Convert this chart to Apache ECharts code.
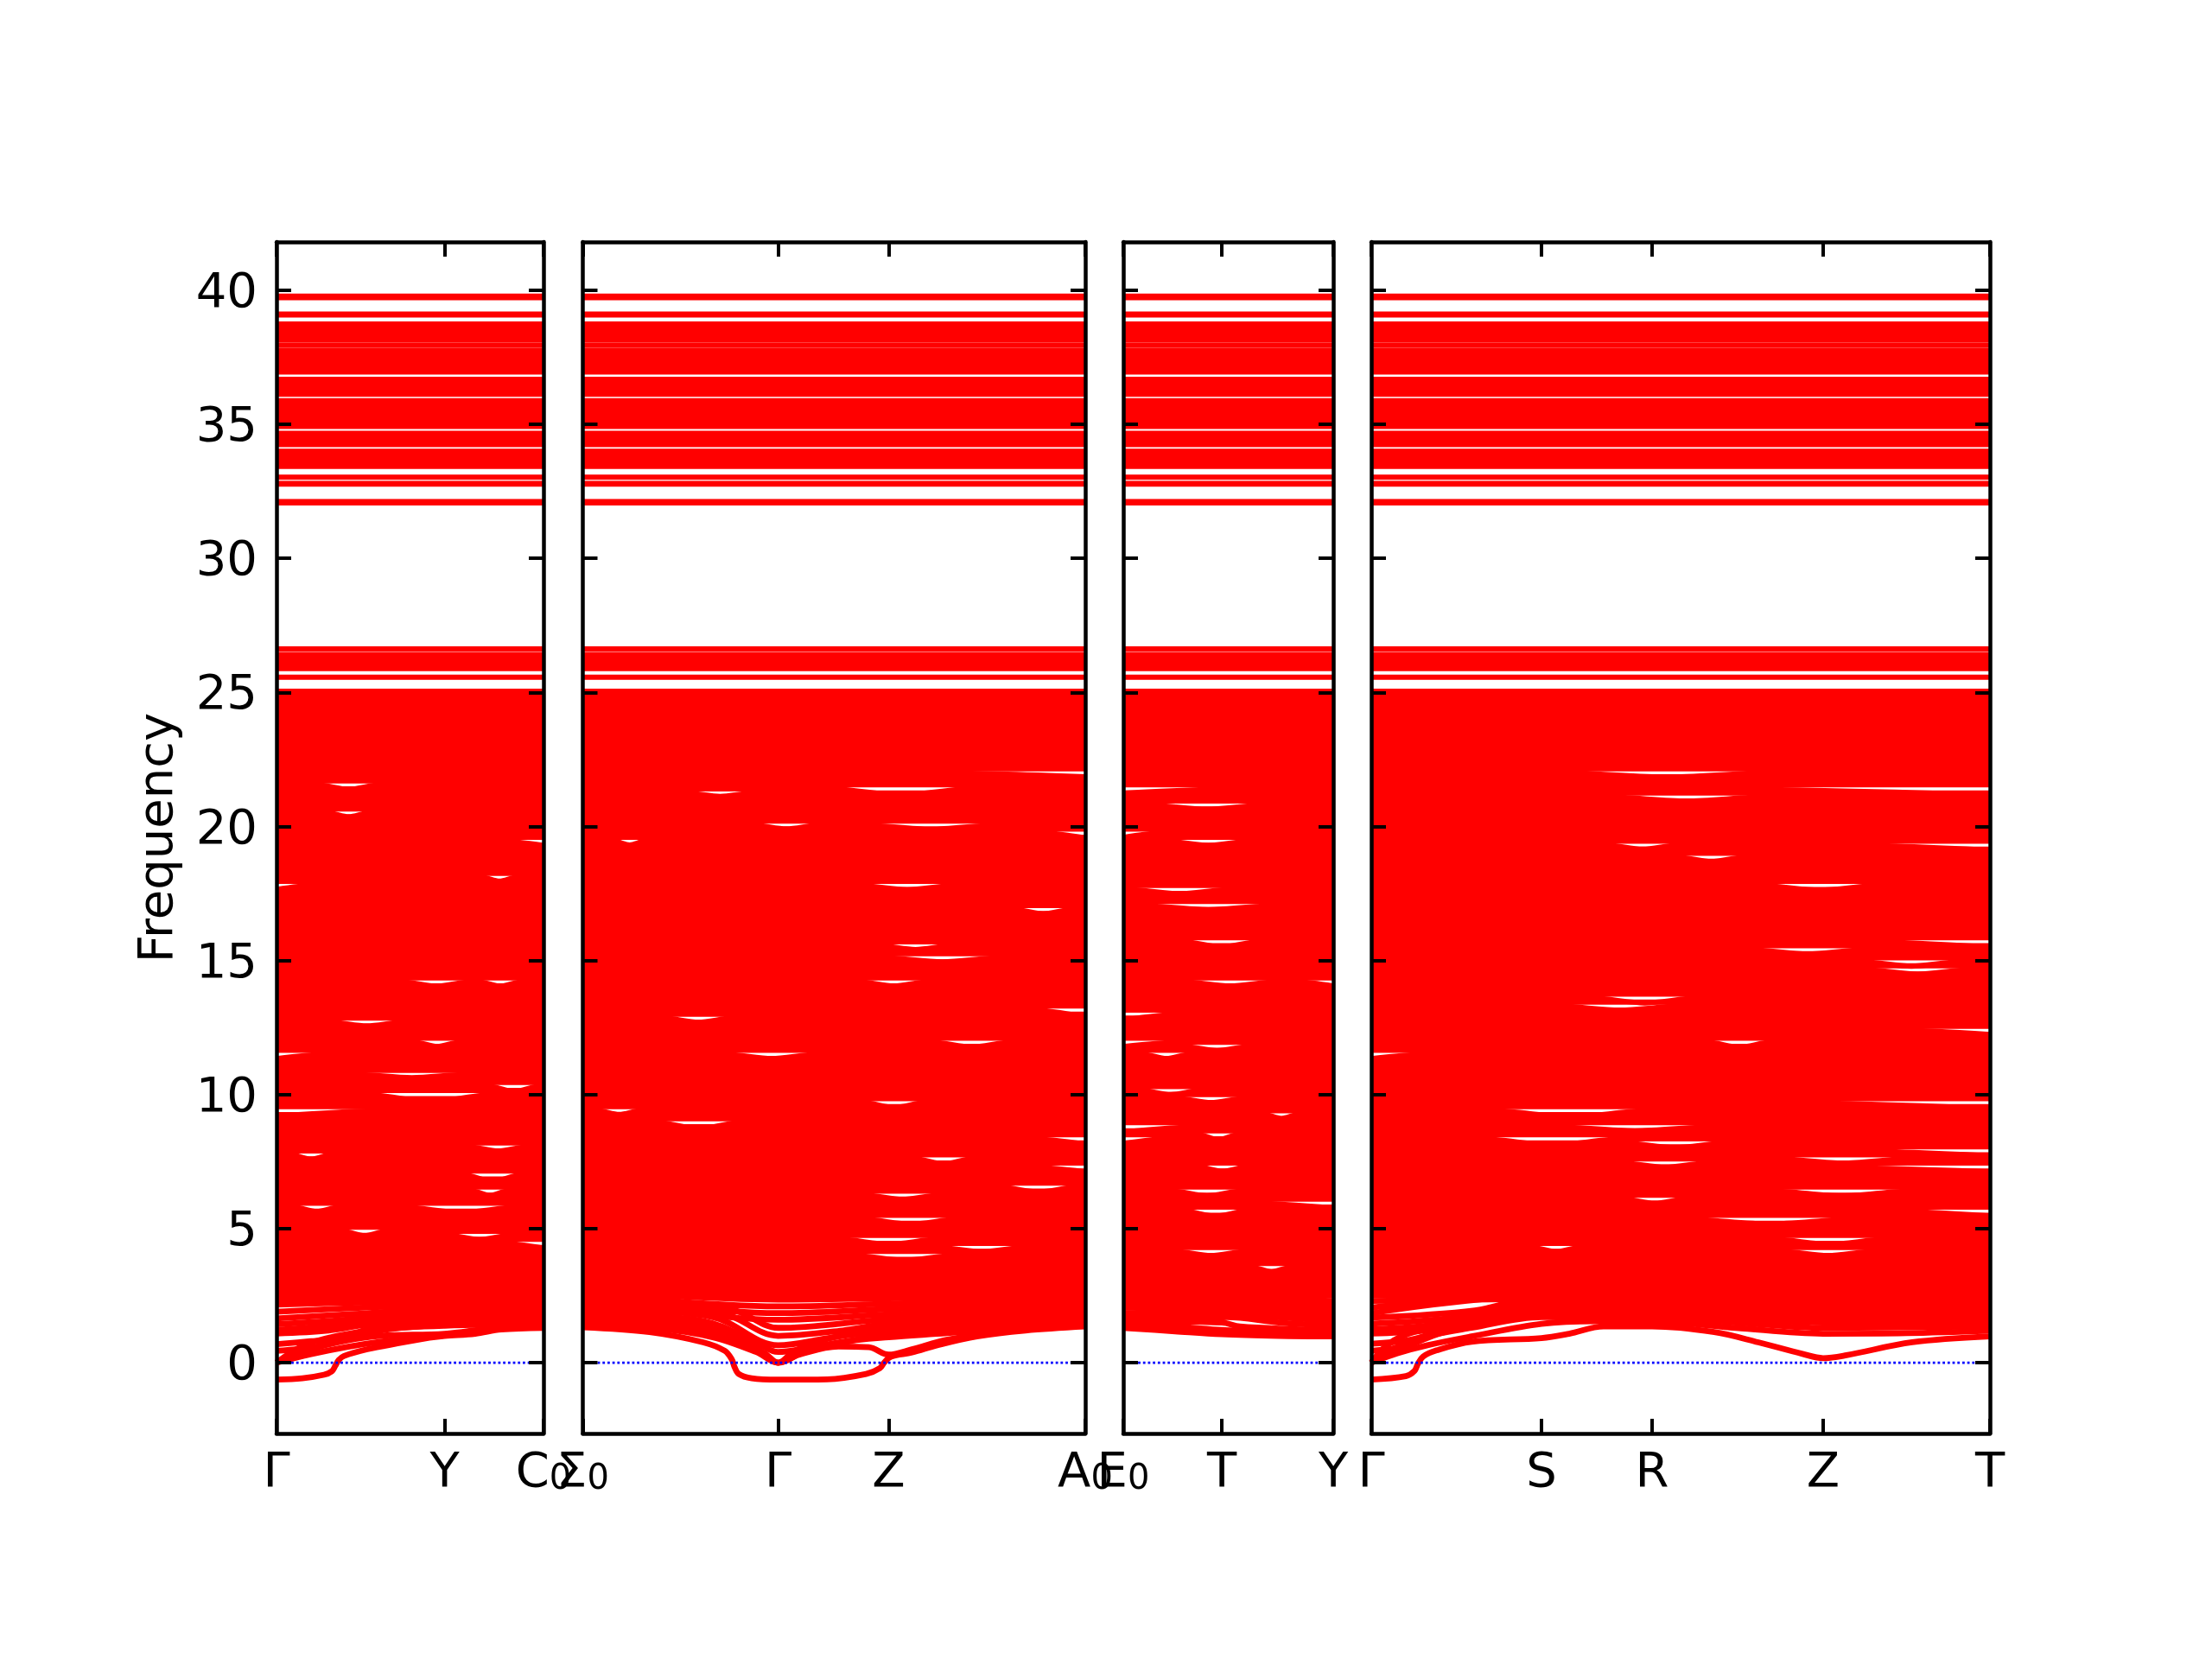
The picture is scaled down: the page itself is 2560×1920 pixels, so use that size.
<!DOCTYPE html>
<html><head><meta charset="utf-8">
<script src="https://cdn.jsdelivr.net/npm/echarts@6/dist/echarts.min.js"></script>
<style>html,body{margin:0;padding:0;background:#fff}#c{width:2560px;height:1920px}</style>
</head><body><div id="c"></div>
<script>
const FONT = 'DejaVu Sans';

// ---- k-path: high-symmetry tick positions and labels per panel ----
const kTicks1 = [0, 194.6, 309];
const kLabels1 = ['Γ', 'Y', 'C_0'];
const kTicks2 = [0, 225.5, 353, 580];
const kLabels2 = ['Σ_0', 'Γ', 'Z', 'A_0'];
const kTicks3 = [0, 114, 243];
const kLabels3 = ['E_0', 'T', 'Y'];
const kTicks4 = [0, 197, 325, 523, 716];
const kLabels4 = ['Γ', 'S', 'R', 'Z', 'T'];

// ---- frequency axis ----
const freqTicks = [0, 5, 10, 15, 20, 25, 30, 35, 40];
const freqMin = -2.64, freqMax = 41.8;
const zeroLevel = [0];

// ---- nearly flat bands (frequency values) ----
const upperBands = [32.07, 32.12, 32.77, 32.79, 33.03, 33.43, 33.57, 33.71, 33.85, 33.99,
  34.24, 34.38, 34.52, 34.66, 34.92, 35.06, 35.20, 35.34, 35.48, 35.62, 35.76, 35.88,
  36.12, 36.26, 36.40, 36.54, 36.68, 36.95, 37.09, 37.23, 37.37, 37.51, 37.65, 37.75,
  37.95, 38.15, 38.29, 38.43, 38.57, 38.71, 38.74, 39.08, 39.11, 39.72, 39.78];
const midBands = [25.57, 25.89, 25.91, 26.05, 26.19, 26.37, 26.41, 26.62];
const lowerBands = [2.50, 2.65, 2.80, 2.95, 3.10, 3.25, 3.40, 3.55, 3.70, 3.85, 4.00, 4.15,
  4.30, 4.45, 4.60, 4.75, 4.90, 5.05, 5.20, 5.35, 5.50, 5.65, 5.80, 5.95, 6.10, 6.25, 6.40,
  6.55, 6.70, 6.85, 7.00, 7.15, 7.30, 7.45, 7.60, 7.75, 7.90, 8.05, 8.20, 8.35, 8.50, 8.65,
  8.80, 8.95, 9.10, 9.25, 9.40, 9.55, 9.70, 9.85, 10.00, 10.15, 10.30, 10.45, 10.60, 10.75,
  10.90, 11.05, 11.20, 11.35, 11.50, 11.65, 11.80, 11.95, 12.10, 12.25, 12.40, 12.55, 12.70,
  12.85, 13.00, 13.15, 13.30, 13.45, 13.60, 13.75, 13.90, 14.05, 14.20, 14.35, 14.50, 14.65,
  14.80, 14.95, 15.10, 15.25, 15.40, 15.55, 15.70, 15.85, 16.00, 16.15, 16.30, 16.45, 16.60,
  16.75, 16.90, 17.05, 17.20, 17.35, 17.50, 17.65, 17.80, 17.95, 18.10, 18.25, 18.40, 18.55,
  18.70, 18.85, 19.00, 19.15, 19.30, 19.45, 19.60, 19.75, 19.90, 20.05, 20.20, 20.35, 20.50,
  20.65, 20.80, 20.95, 21.10, 21.25, 21.40, 21.55, 21.70, 21.85, 22.00, 22.15, 22.30, 22.45,
  22.60, 22.75, 22.90, 23.05, 23.20, 23.35, 23.50, 23.65, 23.80, 23.95, 24.10, 24.25, 24.40,
  24.55, 24.70, 24.85, 25.04];

// ---- bands inside the dense block that separate from their neighbours (white slivers) ----
// [band level, k from, k to, separation]
const slivers1 = [
  [21.55, 47, 120, 0.17], [20.5, 60, 107, 0.14], [19.45, 260, 309, 0.16], [18.1, 238, 278, 0.14],
  [17.8, 0, 42, 0.15], [14.2, 147, 223, 0.16], [14.2, 235, 283, 0.16], [12.7, 62, 147, 0.14],
  [11.95, 160, 212, 0.16], [11.5, 0, 57, 0.16], [10.75, 90, 223, 0.12], [10.3, 247, 303, 0.18],
  [10.0, 103, 253, 0.26], [9.4, 0, 127, 0.2], [8.05, 223, 290, 0.16], [7.75, 17, 63, 0.16],
  [7.0, 217, 283, 0.24], [6.4, 227, 267, 0.16], [5.8, 20, 73, 0.16], [5.8, 147, 280, 0.2],
  [4.9, 77, 127, 0.16], [4.75, 200, 270, 0.16], [4.45, 263, 309, 0.18]
];
const slivers2 = [
  [22.0, 411, 580, 0.15], [21.4, 285, 449, 0.22], [21.25, 120, 197, 0.13], [20.05, 197, 273, 0.14],
  [20.05, 323, 480, 0.15], [19.75, 533, 580, 0.18], [19.45, 36, 72, 0.14], [17.8, 319, 430, 0.16],
  [16.9, 499, 564, 0.16], [15.55, 342, 426, 0.14], [15.1, 346, 484, 0.15], [14.2, 319, 399, 0.15],
  [13.15, 518, 580, 0.25], [12.85, 93, 174, 0.15], [11.95, 403, 495, 0.18], [11.5, 166, 270, 0.16],
  [9.7, 323, 396, 0.18], [9.4, 17, 67, 0.14], [8.95, 86, 182, 0.22], [8.35, 518, 580, 0.2],
  [7.6, 384, 449, 0.18], [7.3, 514, 580, 0.18], [6.55, 480, 572, 0.18], [6.25, 327, 411, 0.16],
  [5.35, 323, 434, 0.18], [4.6, 296, 411, 0.18], [4.3, 411, 510, 0.16], [4.0, 312, 430, 0.18]
];
const slivers3 = [
  [21.4, 0, 133, 0.16], [20.8, 30, 163, 0.16], [19.75, 0, 43, 0.16], [19.45, 50, 147, 0.16],
  [17.65, 7, 123, 0.16], [17.05, 17, 180, 0.15], [15.7, 70, 157, 0.2], [14.2, 70, 177, 0.15],
  [14.2, 203, 243, 0.15], [13.0, 0, 67, 0.22], [11.95, 0, 67, 0.16], [11.8, 70, 147, 0.16],
  [11.5, 23, 77, 0.16], [10.15, 20, 90, 0.15], [9.85, 63, 140, 0.15], [9.25, 163, 203, 0.14],
  [8.8, 0, 90, 0.2], [8.5, 87, 133, 0.18], [8.35, 0, 50, 0.18], [7.3, 87, 143, 0.16],
  [6.4, 57, 137, 0.18], [5.95, 150, 243, 0.18], [5.65, 70, 143, 0.18], [4.15, 60, 143, 0.16],
  [3.55, 150, 193, 0.16]
];
const slivers4 = [
  [22.0, 226, 458, 0.16], [21.4, 379, 716, 0.22], [21.1, 272, 458, 0.15], [19.3, 272, 356, 0.15],
  [19.3, 552, 716, 0.18], [18.85, 356, 431, 0.16], [17.8, 449, 589, 0.18], [15.7, 570, 716, 0.2],
  [15.4, 440, 570, 0.16], [14.95, 570, 680, 0.16], [14.65, 575, 690, 0.16], [13.6, 254, 379, 0.18],
  [13.3, 215, 360, 0.15], [12.4, 608, 716, 0.16], [11.95, 389, 463, 0.18], [11.5, 0, 63, 0.16],
  [9.7, 472, 716, 0.22], [9.4, 142, 319, 0.24], [8.8, 210, 400, 0.15], [8.35, 128, 291, 0.24],
  [8.2, 291, 412, 0.18], [7.9, 552, 716, 0.18], [7.6, 472, 620, 0.16], [7.45, 291, 389, 0.16],
  [7.3, 496, 716, 0.18], [6.4, 465, 624, 0.18], [6.1, 291, 365, 0.15], [5.65, 603, 716, 0.18],
  [5.35, 363, 559, 0.18], [4.6, 465, 596, 0.18], [4.3, 186, 242, 0.16], [4.15, 475, 582, 0.16]
];

// ---- dispersive low-frequency bands per panel: [k, frequency] ----
const lowBands1 = [
  [[0,-0.63],[30,-0.58],[55,-0.45],[64,-0.32],[68,-0.12],[72,0.1],[78,0.25],[105,0.5],[140,0.72],[177,0.93],[194.6,1.0],[230,1.08],[260,1.24],[309,1.3]],
  [[0,0],[40,0.32],[80,0.58],[120,0.78],[160,0.92],[194.6,1.02],[250,1.26],[309,1.33]],
  [[0,0],[40,0.5],[80,0.82],[120,1.0],[194.6,1.08],[250,1.28],[309,1.36]],
  [[0,0],[30,0.62],[70,1.0],[120,1.25],[194.6,1.38],[309,1.45]],
  [[0,0.44],[50,0.62],[80,0.95],[130,1.25],[194.6,1.42],[309,1.52]],
  [[0,0.69],[40,0.8],[75,0.88],[110,1.3],[194.6,1.6],[309,1.62]],
  [[0,1.09],[60,1.2],[110,1.45],[194.6,1.65],[309,1.7]],
  [[0,1.22],[70,1.4],[130,1.62],[194.6,1.8],[309,1.75]],
  [[0,1.43],[80,1.6],[150,1.8],[194.6,1.9],[309,1.85]],
  [[0,1.65],[90,1.82],[194.6,2.0],[309,1.95]],
  [[0,1.9],[100,2.05],[194.6,2.15],[309,2.08]],
  [[0,2.17],[100,2.25],[194.6,2.32],[309,2.22]],
  [[0,2.35],[194.6,2.42],[309,2.36]]
];
const lowBands2 = [
  [[0,1.32],[77,1.14],[139,0.76],[164,0.44],[172,0.12],[175,-0.15],[180,-0.42],[195,-0.58],[225.5,-0.63],[282,-0.62],[327,-0.42],[343,-0.2],[348,0.01],[356,0.23],[380,0.38],[409,0.65],[455,0.98],[511,1.2],[580,1.35]],
  [[0,1.45],[80,1.3],[150,0.95],[200,0.4],[225.5,0],[250,0.3],[295,0.6],[330,0.58],[353,0.3],[380,0.5],[420,0.85],[480,1.15],[580,1.42]],
  [[0,1.6],[100,1.4],[170,0.95],[210,0.35],[225.5,0],[260,0.5],[300,0.78],[353,0.95],[420,1.1],[500,1.3],[580,1.48]],
  [[0,1.75],[120,1.5],[190,0.8],[225.5,0],[245,0.45],[290,0.95],[353,1.15],[450,1.35],[580,1.55]],
  [[0,1.9],[140,1.55],[200,0.75],[225.5,0.4],[260,0.55],[300,0.75],[330,0.95],[353,1.02],[450,1.4],[580,1.6]],
  [[0,2.05],[150,1.7],[225.5,0.65],[280,0.9],[353,1.3],[480,1.55],[580,1.7]],
  [[0,2.2],[160,1.85],[225.5,1.0],[300,1.2],[353,1.45],[580,1.8]],
  [[0,2.35],[170,2.0],[225.5,1.3],[353,1.62],[580,1.95]],
  [[0,2.45],[225.5,1.6],[353,1.8],[580,2.1]],
  [[0,2.55],[225.5,1.85],[353,2.0],[580,2.25]],
  [[0,2.6],[225.5,2.1],[353,2.2],[580,2.4]],
  [[0,2.7],[225.5,2.35],[353,2.4],[580,2.5]]
];
const lowBands3 = [
  [[0,1.3],[60,1.17],[114,1.06],[180,1.0],[243,0.98]],
  [[0,1.45],[60,1.35],[114,1.22],[140,1.18],[200,1.1],[243,1.05]],
  [[0,1.55],[114,1.5],[135,1.35],[200,1.25],[243,1.2]],
  [[0,1.7],[100,1.65],[120,1.7],[180,1.5],[243,1.38]],
  [[0,1.85],[114,1.8],[243,1.55]],
  [[0,2.05],[114,1.95],[243,1.7]],
  [[0,2.2],[114,2.1],[243,1.85]],
  [[0,2.35],[114,2.25],[243,2.0]],
  [[0,2.45],[243,2.15]],
  [[0,2.5],[243,2.3]]
];
const lowBands4 = [
  [[0,-0.63],[40,-0.5],[50,-0.31],[54,-0.04],[60,0.23],[75.5,0.46],[116,0.78],[197,0.92],[229,1.08],[269,1.35],[325,1.35],[397,1.14],[448,0.76],[499,0.33],[523,0.17],[550,0.28],[626,0.76],[716,0.98]],
  [[0,0],[30,0.35],[65,0.65],[116,0.98],[197,1.45],[260,1.55],[325,1.54],[422,1.3],[523,1.08],[620,1.1],[716,1.19]],
  [[0,0],[25,0.5],[60,0.95],[116,1.3],[197,1.7],[325,1.7],[422,1.5],[523,1.3],[716,1.35]],
  [[0,0],[20,0.7],[50,1.15],[116,1.5],[197,1.85],[325,1.85],[523,1.5],[716,1.5]],
  [[0,0.44],[40,0.62],[80,1.1],[150,1.6],[197,1.95],[325,1.95],[523,1.62],[716,1.65]],
  [[0,0.71],[45,0.85],[90,1.3],[197,2.05],[325,2.05],[523,1.75],[716,1.8]],
  [[0,1.09],[60,1.2],[110,1.55],[197,2.15],[523,1.9],[716,1.95]],
  [[0,1.25],[80,1.45],[197,2.25],[523,2.05],[716,2.1]],
  [[0,1.46],[100,1.7],[197,2.35],[523,2.2],[716,2.25]],
  [[0,1.68],[120,1.95],[197,2.45],[523,2.35],[716,2.4]],
  [[0,1.84],[197,2.5],[716,2.5]],
  [[0,2.05],[197,2.55],[716,2.55]],
  [[0,2.3],[716,2.6]]
];

// ---- layout (pixels) ----
const panels = [
  {left: 320, width: 309, ticks: kTicks1, labels: kLabels1, low: lowBands1, slivers: slivers1},
  {left: 674.5, width: 581.5, ticks: kTicks2, labels: kLabels2, low: lowBands2, slivers: slivers2},
  {left: 1300, width: 243, ticks: kTicks3, labels: kLabels3, low: lowBands3, slivers: slivers3},
  {left: 1587, width: 716, ticks: kTicks4, labels: kLabels4, low: lowBands4, slivers: slivers4}
];
const TOP = 280, HEIGHT = 1379;
const RED = '#ff0000', LW = 6, LW_LOW = 6.8;

const rich = {
  m: {fontSize: 56, lineHeight: 56, fontFamily: FONT, color: '#000'},
  s: {fontSize: 40, lineHeight: 20, verticalAlign: 'bottom', fontFamily: FONT, color: '#000'}
};
const yRich = {v: {fontSize: 56, lineHeight: 56, fontFamily: FONT, color: '#000', padding: [9, 0, 0, 0]}};
function labelFormatter(ticks, labels) {
  return function (v) {
    const i = ticks.findIndex(t => Math.abs(t - v) < 1e-6);
    if (i < 0) return '';
    const p = labels[i].split('_');
    return p.length > 1 ? '{m|' + p[0] + '}{s|' + p[1] + '}' : '{m|' + p[0] + '}';
  };
}
function flatData(values, L) {
  const d = [];
  values.forEach(v => { d.push([0, v], [L, v], ['-', '-']); });
  return d;
}
function sliverBands(specs, L) {
  const byLevel = {};
  specs.forEach(s => { (byLevel[s[0]] = byLevel[s[0]] || []).push(s); });
  return Object.keys(byLevel).map(key => {
    const f = +key;
    const list = byLevel[key].slice().sort((a, b) => a[1] - b[1]);
    const pts = [];
    if (list[0][1] > 0) pts.push([0, f]);
    list.forEach(s => {
      const a = s[1], b = s[2], d = s[3];
      if (a <= 0) pts.push([0, f - d]);
      else pts.push([a, f]);
      if (b >= L) pts.push([L, f - d]);
      else { if (a > 0) pts.push([(a + b) / 2, f - d]); pts.push([b, f]); }
    });
    if (pts[pts.length - 1][0] < L) pts.push([L, f]);
    return pts;
  });
}

const grid = [], xAxis = [], yAxis = [], series = [];
const axisLineStyle = {color: '#000', width: 4.5};
const tickStyle = {color: '#000', width: 4};
panels.forEach((p, i) => {
  const L = p.ticks[p.ticks.length - 1];
  grid.push({left: p.left, top: TOP, width: p.width, height: HEIGHT, containLabel: false});
  xAxis.push({
    gridIndex: i, type: 'value', min: 0, max: L, position: 'bottom', z: 10,
    axisLine: {show: true, onZero: false, lineStyle: axisLineStyle},
    axisTick: {show: true, inside: true, length: 17, lineStyle: tickStyle, customValues: p.ticks},
    axisLabel: {show: true, customValues: p.ticks, margin: 18, formatter: labelFormatter(p.ticks, p.labels), rich: rich},
    splitLine: {show: false}
  });
  xAxis.push({
    gridIndex: i, type: 'value', min: 0, max: L, position: 'top', z: 10,
    axisLine: {show: true, onZero: false, lineStyle: axisLineStyle},
    axisTick: {show: true, inside: true, length: 17, lineStyle: tickStyle, customValues: p.ticks},
    axisLabel: {show: false}, splitLine: {show: false}
  });
  yAxis.push({
    gridIndex: i, type: 'value', min: freqMin, max: freqMax, position: 'left', z: 10,
    name: i === 0 ? 'Frequency' : '', nameLocation: 'middle', nameRotate: 90, nameGap: 108,
    nameTextStyle: {fontSize: 56, fontFamily: FONT, color: '#000'},
    axisLine: {show: true, onZero: false, lineStyle: axisLineStyle},
    axisTick: {show: true, inside: true, length: 17, lineStyle: tickStyle, customValues: freqTicks},
    axisLabel: {show: i === 0, customValues: freqTicks, margin: 22, formatter: v => '{v|' + v + '}', rich: yRich},
    splitLine: {show: false}
  });
  yAxis.push({
    gridIndex: i, type: 'value', min: freqMin, max: freqMax, position: 'right', z: 10,
    axisLine: {show: true, onZero: false, lineStyle: axisLineStyle},
    axisTick: {show: true, inside: true, length: 17, lineStyle: tickStyle, customValues: freqTicks},
    axisLabel: {show: false}, splitLine: {show: false}
  });
  const xi = 2 * i, yi = 2 * i;
  const common = {type: 'line', xAxisIndex: xi, yAxisIndex: yi, symbol: 'none', showSymbol: false,
    silent: true, animation: false, connectNulls: false, emphasis: {disabled: true}};
  const splitLevels = p.slivers.map(s => s[0]);
  const flatLevels = lowerBands.filter(v => !splitLevels.some(f => Math.abs(f - v) < 1e-6));
  series.push(Object.assign({}, common, {
    data: flatData(flatLevels.concat(midBands, upperBands), L),
    lineStyle: {color: RED, width: LW}
  }));
  sliverBands(p.slivers, L).forEach(b => {
    series.push(Object.assign({}, common, {
      data: b, smooth: 0.3, lineStyle: {color: RED, width: LW}
    }));
  });
  p.low.forEach(b => {
    series.push(Object.assign({}, common, {
      data: b, smooth: 0.35, lineStyle: {color: RED, width: LW_LOW, join: 'round'}
    }));
  });
  series.push(Object.assign({}, common, {
    data: [[0, zeroLevel[0]], [L, zeroLevel[0]]],
    lineStyle: {color: '#0000ff', width: 2.7, type: [2.8, 2.9]}, z: 5
  }));
});

const chart = echarts.init(document.getElementById('c'), null, {renderer: 'canvas', width: 2560, height: 1920});
chart.setOption({backgroundColor: '#fff', animation: false, grid, xAxis, yAxis, series});
</script></body></html>
